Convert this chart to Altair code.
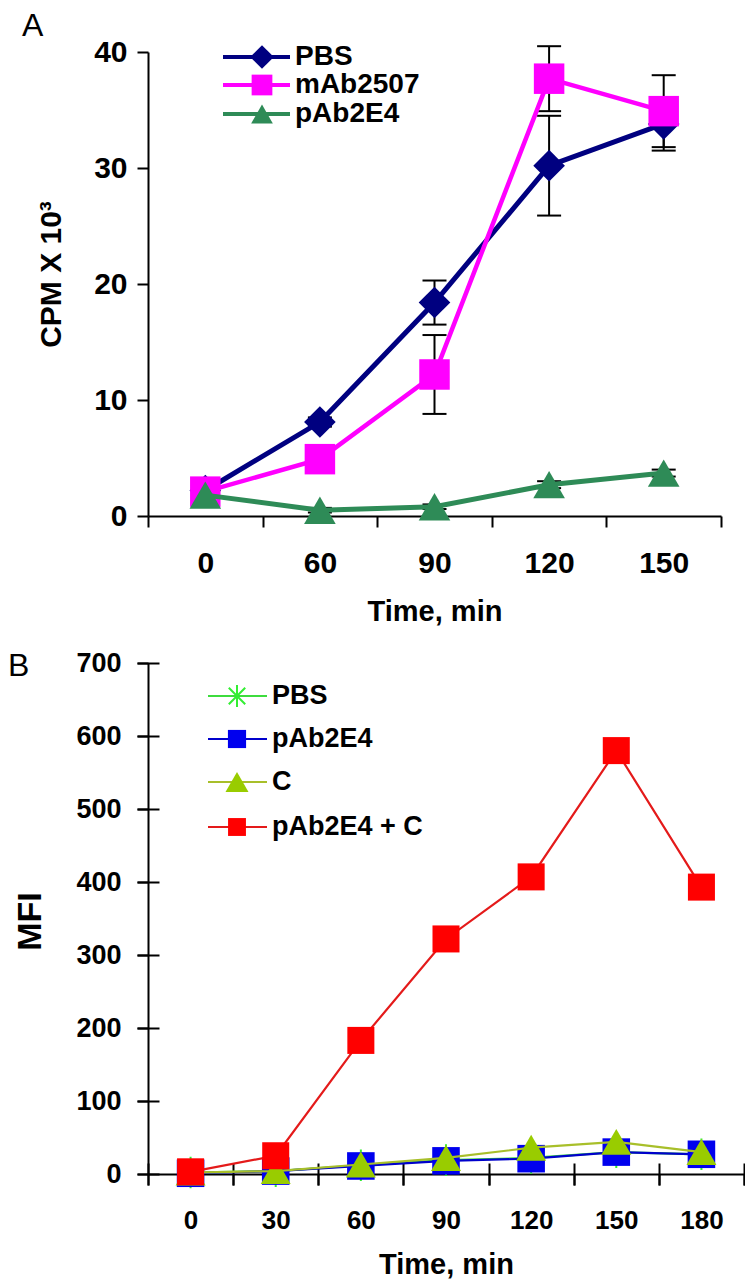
import altair as alt
import pandas as pd

FONT = "Liberation Sans, Arial, Helvetica, sans-serif"

# ---------------- Panel A data ----------------
TIMES_A = ["0", "60", "90", "120", "150"]
SERIES_A = ["PBS", "mAb2507", "pAb2E4"]
PBS_A = [2.2, 8.1, 18.4, 30.2, 33.8]
PBS_A_ERR = [0.3, 0.4, 1.9, 4.3, 2.3]
MAB_A = [2.1, 4.9, 12.2, 37.7, 34.9]
MAB_A_ERR = [0.3, 0.4, 3.4, 2.8, 3.1]
PAB_A = [1.8, 0.5, 0.8, 2.7, 3.7]
PAB_A_ERR = [0.2, 0.2, 0.2, 0.3, 0.3]
Y_TICKS_A = [0, 10, 20, 30, 40]

# ---------------- Panel B data ----------------
TIMES_B = ["0", "30", "60", "90", "120", "150", "180"]
SERIES_B = ["PBS", "pAb2E4", "C", "pAb2E4 + C"]
PBS_B = [2, 4, 12, 19, 22, 30, 27]
PAB_B = [1, 4, 11, 18, 21, 30, 27]
C_B = [2, 4, 13, 22, 36, 44, 30]
PABC_B = [3, 25, 183, 322, 407, 580, 393]
Y_TICKS_B = [0, 100, 200, 300, 400, 500, 600, 700]

PANEL_LABELS = ["A", "B"]

# ---------------- styles ----------------
COLORS_A = ["#000080", "#ff00ff", "#2e8b57"]
SHAPES_A = ["diamond", "square", "triangle-up"]
SIZES_A = [1000, 930, 1000]
LEG_SIZES_A = [560, 430, 470]
LINE_W_A = [5, 4.5, 5]

ASTERISK = "M-0.75,-0.75L0.75,0.75M-0.75,0.75L0.75,-0.75M0,-1L0,1"
LINE_COLORS_B = ["#3ddc3d", "#0000cc", "#a8bf2a", "#e41a1a"]
MARK_COLORS_B = ["#33ee33", "#0000ee", "#99cc00", "#ff0000"]
SHAPES_B = [ASTERISK, "square", "triangle-up", "square"]
SIZES_B = [1000, 760, 900, 730]
LEG_SIZES_B = [480, 330, 530, 320]

W_A, H_A = 573, 464
W_B, H_B = 596, 511

axis_common = dict(
    domainColor="black", domainWidth=2, tickColor="black", tickWidth=2,
    labelColor="black", labelFont=FONT, labelFontWeight="bold",
    titleFont=FONT, titleFontWeight="bold", titleColor="black", grid=False,
)


def x_enc(times, axis):
    return alt.X(
        "time:O",
        scale=alt.Scale(type="band", domain=times, paddingInner=0, paddingOuter=0),
        bandPosition=0.5,
        axis=axis,
    )


def long_frame(times, names, values, errs=None):
    rows = []
    for k, (name, vals) in enumerate(zip(names, values)):
        for j, (t, v) in enumerate(zip(times, vals)):
            e = errs[k][j] if errs else 0
            rows.append({"series": name, "time": t, "value": v, "lo": v - e, "hi": v + e})
    return pd.DataFrame(rows)


def legend_entry(name, color, shape, size, filled, y, x0, x1, xm, xt, lw, fs, line_color=None):
    d = alt.Chart(pd.DataFrame({"series": [name]}))
    rule = d.mark_rule(color=line_color or color, strokeWidth=lw).encode(
        x=alt.value(x0), x2=alt.value(x1), y=alt.value(y))
    if filled:
        pt = d.mark_point(shape=shape, size=size, filled=True, color=color, opacity=1)
    else:
        pt = d.mark_point(shape=shape, size=size, filled=False, color=color,
                          strokeWidth=2, opacity=1)
    pt = pt.encode(x=alt.value(xm), y=alt.value(y))
    txt = d.mark_text(align="left", baseline="middle", font=FONT, fontWeight="bold",
                      fontSize=fs, color="black").encode(
        x=alt.value(xt), y=alt.value(y), text="series:N")
    return [rule, pt, txt]


def panel_label(label, x, y):
    return alt.Chart(pd.DataFrame({"label": [label]})).mark_text(
        align="left", baseline="top", font=FONT, fontSize=32, color="black"
    ).encode(x=alt.value(x), y=alt.value(y), text="label:N")


# ================= Panel A =================
df_a = long_frame(TIMES_A, SERIES_A, [PBS_A, MAB_A, PAB_A], [PBS_A_ERR, MAB_A_ERR, PAB_A_ERR])
ys_a = alt.Scale(domain=[0, 40], nice=False, zero=True)

xa_axis = alt.Axis(orient="bottom", title="Time, min", tickBand="extent", labelAngle=0,
                   labelFontSize=30, labelPadding=21, tickSize=11, titleFontSize=29,
                   titleBaseline="alphabetic", titleY=104, **axis_common)
ya_axis = alt.Axis(orient="left", title="CPM X 10³", values=Y_TICKS_A, tickSize=11,
                   labelFontSize=30, labelPadding=10, titleFontSize=30, titleAngle=270,
                   titleBaseline="alphabetic", titleAlign="center", titleX=-88, titleY=222,
                   **axis_common)

base_a = alt.Chart(df_a)
layers_a = [
    base_a.mark_rule(color="black", strokeWidth=2).encode(
        x=x_enc(TIMES_A, xa_axis),
        y=alt.Y("lo:Q", scale=ys_a, axis=ya_axis),
        y2="hi:Q"),
    base_a.mark_point(shape="M-1,0L1,0", size=576, filled=False, color="black",
                      strokeWidth=2, opacity=1).encode(
        x=x_enc(TIMES_A, None), y=alt.Y("lo:Q", scale=ys_a, axis=None)),
    base_a.mark_point(shape="M-1,0L1,0", size=576, filled=False, color="black",
                      strokeWidth=2, opacity=1).encode(
        x=x_enc(TIMES_A, None), y=alt.Y("hi:Q", scale=ys_a, axis=None)),
]
for name, col, shp, sz, lw in zip(SERIES_A, COLORS_A, SHAPES_A, SIZES_A, LINE_W_A):
    sub = base_a.transform_filter(alt.datum.series == name)
    layers_a.append(sub.mark_line(color=col, strokeWidth=lw).encode(
        x=x_enc(TIMES_A, None), y=alt.Y("value:Q", scale=ys_a, axis=None)))
    layers_a.append(sub.mark_point(shape=shp, size=sz, filled=True, color=col, opacity=1).encode(
        x=x_enc(TIMES_A, None), y=alt.Y("value:Q", scale=ys_a, axis=None)))

LEG_Y_A = [5, 33, 62]
for name, col, shp, sz, ly in zip(SERIES_A, COLORS_A, SHAPES_A, LEG_SIZES_A, LEG_Y_A):
    layers_a += legend_entry(name, col, shp, sz, True, ly, 75, 142, 114, 147, 4, 28)
layers_a.append(panel_label(PANEL_LABELS[0], -126, -41))

chart_a = alt.layer(*layers_a).resolve_axis(x="independent", y="independent").properties(
    width=W_A, height=H_A)

# ================= Panel B =================
df_b = long_frame(TIMES_B, SERIES_B, [PBS_B, PAB_B, C_B, PABC_B])
ys_b = alt.Scale(domain=[0, 700], nice=False, zero=True)

xb_axis = alt.Axis(orient="bottom", title="Time, min", tickBand="extent", labelAngle=0,
                   labelFontSize=26, labelPadding=22, tickSize=11, titleFontSize=29,
                   titleBaseline="alphabetic", titleY=99, **axis_common)
yb_axis = alt.Axis(orient="left", title="MFI", values=Y_TICKS_B, tickSize=11, labelFontSize=27,
                   labelPadding=16, titleFontSize=34, titleAngle=270,
                   titleBaseline="alphabetic", titleAlign="center", titleX=-108, titleY=258,
                   **axis_common)
xb_cross = alt.Axis(orient="bottom", title=None, tickBand="extent", labels=False, domain=False,
                    offset=-11, tickSize=22, tickColor="black", tickWidth=2, grid=False)
yb_cross = alt.Axis(orient="left", title=None, values=Y_TICKS_B, labels=False, domain=False,
                    offset=-11, tickSize=22, tickColor="black", tickWidth=2, grid=False)

base_b = alt.Chart(df_b)
layers_b = []
for k, (name, lc, mc, shp, sz) in enumerate(zip(SERIES_B, LINE_COLORS_B, MARK_COLORS_B, SHAPES_B, SIZES_B)):
    sub = base_b.transform_filter(alt.datum.series == name)
    if k == 0:
        xa, ya = xb_axis, yb_axis
    elif k == 1:
        xa, ya = xb_cross, yb_cross
    else:
        xa, ya = None, None
    layers_b.append(sub.mark_line(color=lc, strokeWidth=2.2).encode(
        x=x_enc(TIMES_B, xa), y=alt.Y("value:Q", scale=ys_b, axis=ya)))
    if shp == ASTERISK:
        pt = sub.mark_point(shape=shp, size=sz, filled=False, color=mc, strokeWidth=2, opacity=1)
    else:
        pt = sub.mark_point(shape=shp, size=sz, filled=True, color=mc, opacity=1)
    layers_b.append(pt.encode(x=x_enc(TIMES_B, None),
                              y=alt.Y("value:Q", scale=ys_b, axis=None)))

LEG_Y_B = [33, 76, 119, 164]
for name, lc, mc, shp, sz, ly in zip(SERIES_B, LINE_COLORS_B, MARK_COLORS_B, SHAPES_B, LEG_SIZES_B, LEG_Y_B):
    layers_b += legend_entry(name, mc, shp, sz, shp != ASTERISK, ly, 60, 119, 89, 124, 2, 27,
                             line_color=lc)
layers_b.append(panel_label(PANEL_LABELS[1], -140, -12))

chart_b = alt.layer(*layers_b).resolve_axis(x="independent", y="independent").properties(
    width=W_B, height=H_B)

chart = alt.vconcat(chart_a, chart_b, spacing=23).properties(
    padding={"left": 0, "top": 2, "right": 0, "bottom": 0}
).configure_view(stroke=None)

chart.save("out.html", embed_options={"renderer": "svg", "actions": False})
